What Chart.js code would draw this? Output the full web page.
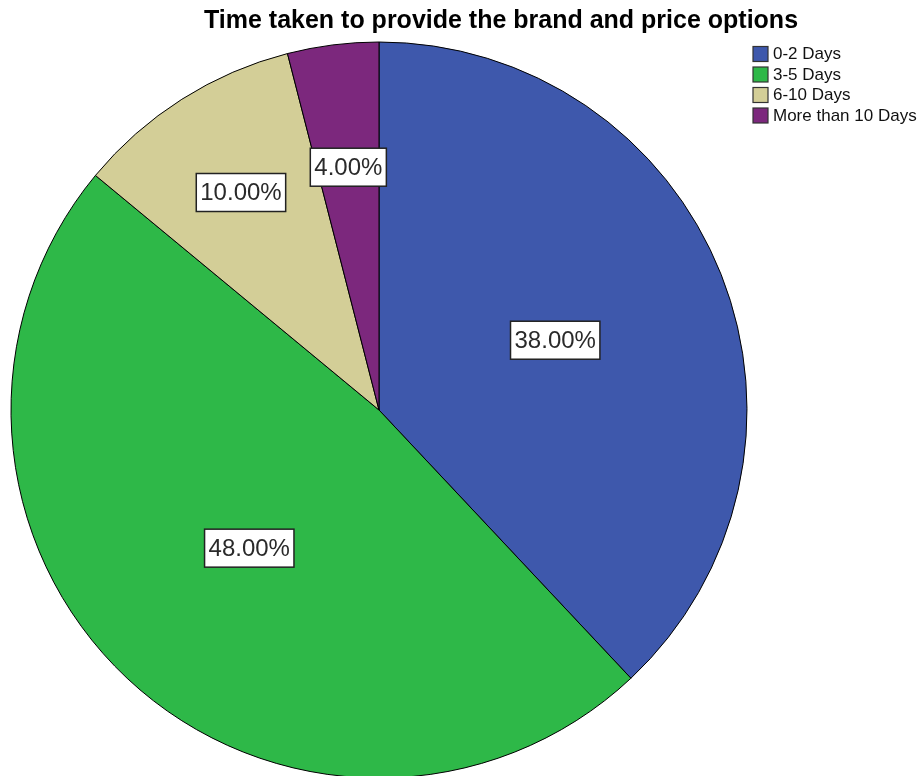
<!DOCTYPE html>
<html>
<head>
<meta charset="utf-8">
<title>Time taken to provide the brand and price options</title>
<script src="https://cdn.jsdelivr.net/npm/chart.js@4/dist/chart.umd.min.js"></script>
<style>
  html, body { margin: 0; padding: 0; background: #fff; overflow: hidden; }
  canvas { display: block; }
</style>
</head>
<body>
<canvas id="timeChart" width="922" height="776"></canvas>
<script>
var chartTitle = "Time taken to provide the brand and price options";
var categories = ["0-2 Days", "3-5 Days", "6-10 Days", "More than 10 Days"];
var percents = [38, 48, 10, 4];
var sliceColors = ["#3E58AC", "#2EB848", "#D3CE97", "#7C287D"];

// how far out (fraction of the radius) each value box sits
var labelRadius = [0.515, 0.515, 0.70, 0.665];

var FONT = "'Liberation Sans', Arial, sans-serif";

// title, legend and the boxed percentage labels
var pieDecor = {
    id: "pieDecor",
    afterDatasetsDraw: function (chart) {
        var ctx = chart.ctx;
        var meta = chart.getDatasetMeta(0);

        ctx.save();
        ctx.font = "24px " + FONT;
        ctx.textAlign = "center";
        ctx.textBaseline = "middle";
        meta.data.forEach(function (arc, i) {
            var p = arc.getProps(["x", "y", "startAngle", "endAngle", "outerRadius"], true);
            var mid = (p.startAngle + p.endAngle) / 2;
            var r = p.outerRadius * labelRadius[i];
            var cx = p.x + Math.cos(mid) * r;
            var cy = p.y + Math.sin(mid) * r;
            var txt = percents[i].toFixed(2) + "%";
            var w = ctx.measureText(txt).width + 8;
            var h = 38;
            ctx.fillStyle = "#fff";
            ctx.fillRect(cx - w / 2, cy - h / 2, w, h);
            ctx.strokeStyle = "#222";
            ctx.lineWidth = 1.5;
            ctx.strokeRect(cx - w / 2, cy - h / 2, w, h);
            ctx.fillStyle = "#2a2a2a";
            ctx.fillText(txt, cx, cy + 1);
        });

        // title
        ctx.font = "bold 25px " + FONT;
        ctx.fillStyle = "#000";
        ctx.fillText(chartTitle, 501, 21);

        // legend
        ctx.font = "17px " + FONT;
        ctx.textAlign = "left";
        categories.forEach(function (name, i) {
            var y = 53.5 + i * 20.5;
            ctx.fillStyle = sliceColors[i];
            ctx.fillRect(753, y - 7, 15, 15);
            ctx.strokeStyle = "#333";
            ctx.lineWidth = 1.2;
            ctx.strokeRect(753, y - 7, 15, 15);
            ctx.fillStyle = "#111";
            ctx.fillText(name, 773, y + 1);
        });
        ctx.restore();
    }
};

new Chart(document.getElementById("timeChart").getContext("2d"), {
    type: "pie",
    data: {
        labels: categories,
        datasets: [{
            data: percents,
            backgroundColor: sliceColors,
            borderColor: "#000",
            borderWidth: 1,
            clip: false
        }]
    },
    options: {
        responsive: false,
        animation: false,
        events: [],
        radius: 368,
        layout: { padding: { left: 11, right: 175, top: 44, bottom: 0 } },
        plugins: {
            legend: { display: false },
            title: { display: false },
            tooltip: { enabled: false }
        }
    },
    plugins: [pieDecor]
});
</script>
</body>
</html>
